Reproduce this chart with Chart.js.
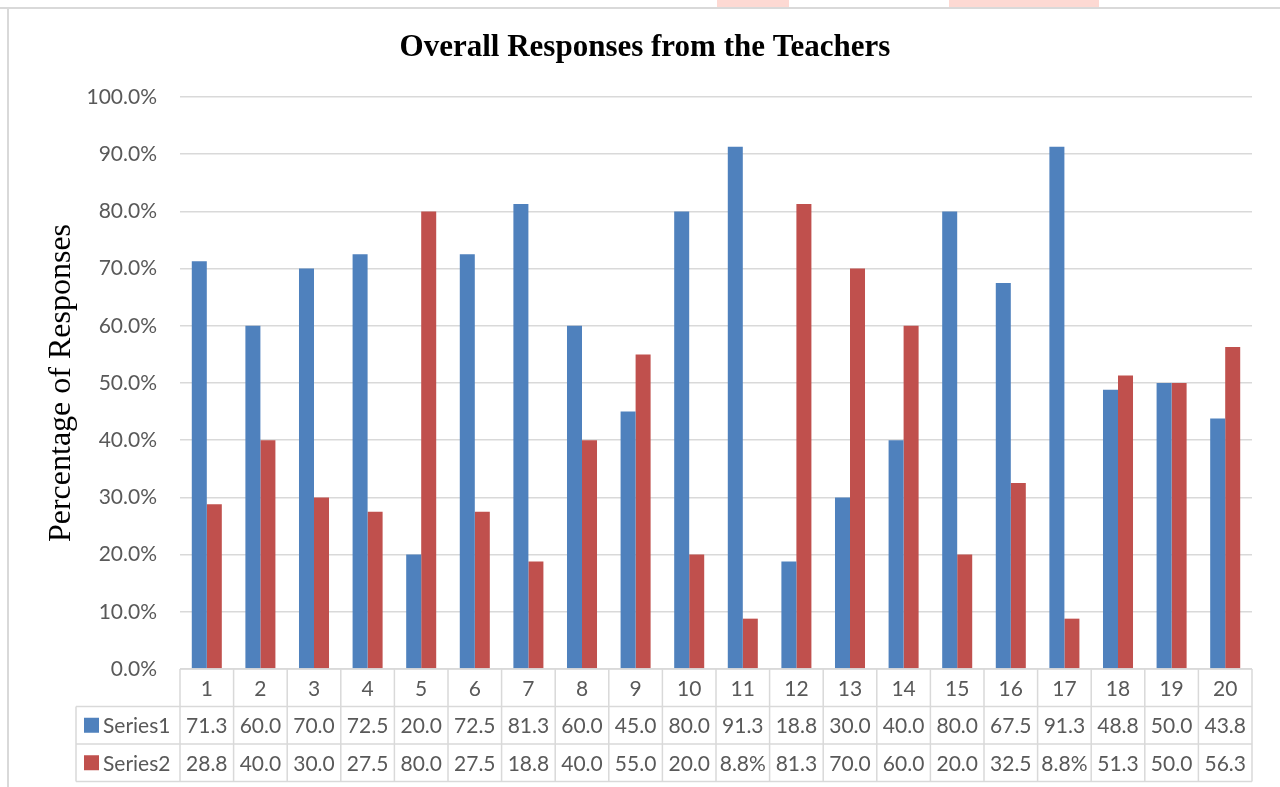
<!DOCTYPE html>
<html>
<head>
<meta charset="utf-8">
<script src="https://cdn.jsdelivr.net/npm/chart.js@4/dist/chart.umd.min.js"></script>
<style>
  html, body { margin: 0; padding: 0; background: #fff; }
  #wrap { width: 1280px; height: 787px; }
</style>
</head>
<body>
<div id="wrap"><canvas id="respChart" width="1280" height="787"></canvas></div>
<script>
// data
var items = ['1','2','3','4','5','6','7','8','9','10','11','12','13','14','15','16','17','18','19','20'];
var series1 = [71.3, 60.0, 70.0, 72.5, 20.0, 72.5, 81.3, 60.0, 45.0, 80.0, 91.3, 18.8, 30.0, 40.0, 80.0, 67.5, 91.3, 48.8, 50.0, 43.8];
var series2 = [28.8, 40.0, 30.0, 27.5, 80.0, 27.5, 18.8, 40.0, 55.0, 20.0, 8.8, 81.3, 70.0, 60.0, 20.0, 32.5, 8.8, 51.3, 50.0, 56.3];
var seriesNames = ['Series1', 'Series2'];
var seriesColors = ['#4f81bd', '#c0504d'];

var labelFont = 'Lato, "Open Sans", sans-serif';
var lineGrey = '#d9d9d9';
var textGrey = '#595959';

// table cell text: Excel showed single-digit values with the % sign
function cellText(v) {
    return v < 10 ? v.toFixed(1) + '%' : v.toFixed(1);
}

// page frame + title + data table under the plot
var tablePlugin = {
    id: 'dataTable',
    beforeDraw: function(chart) {
        var c = chart.ctx;
        c.save();
        c.fillStyle = '#fdd9d3';
        c.fillRect(717, 0, 72, 7);
        c.fillRect(949, 0, 150, 7);
        c.strokeStyle = lineGrey;
        c.lineWidth = 2;
        c.beginPath();
        c.moveTo(0, 8); c.lineTo(1280, 8);
        c.moveTo(8, 8); c.lineTo(8, 787);
        c.stroke();
        c.restore();
    },
    afterDraw: function(chart) {
        var c = chart.ctx;
        var x = chart.scales.x;
        var area = chart.chartArea;
        var left = area.left, right = area.right;
        var rowTop = area.bottom;
        var rowH = 37.5;
        var headLeft = 76;
        var data = [series1, series2];

        c.save();
        // title
        c.fillStyle = '#000';
        c.font = 'bold 31px "Liberation Serif", "Times New Roman", serif';
        c.textAlign = 'center';
        c.textBaseline = 'middle';
        c.fillText('Overall Responses from the Teachers', 645, 48);

        // grid of the table
        c.strokeStyle = lineGrey;
        c.lineWidth = 1.5;
        c.beginPath();
        c.moveTo(left, rowTop); c.lineTo(right, rowTop);
        for (var r = 1; r <= 3; r++) {
            var yy = rowTop + r * rowH;
            c.moveTo(headLeft, yy); c.lineTo(right, yy);
        }
        c.moveTo(headLeft, rowTop + rowH); c.lineTo(headLeft, rowTop + 3 * rowH);
        var half = (x.getPixelForValue(1) - x.getPixelForValue(0)) / 2;
        for (var i = 0; i < items.length; i++) {
            var bx = x.getPixelForValue(i) - half;
            c.moveTo(bx, rowTop); c.lineTo(bx, rowTop + 3 * rowH);
        }
        c.moveTo(right, rowTop); c.lineTo(right, rowTop + 3 * rowH);
        c.stroke();

        // category row + values
        c.fillStyle = textGrey;
        c.font = '21px ' + labelFont;
        c.textAlign = 'center';
        for (var j = 0; j < items.length; j++) {
            var cx = x.getPixelForValue(j);
            c.fillText(items[j], cx, rowTop + rowH / 2 + 1);
            for (var s = 0; s < data.length; s++) {
                c.fillText(cellText(data[s][j]), cx, rowTop + (s + 1.5) * rowH + 1);
            }
        }

        // legend keys in the header column
        for (var k = 0; k < seriesNames.length; k++) {
            var cy = rowTop + (k + 1.5) * rowH;
            c.fillStyle = seriesColors[k];
            c.fillRect(84, cy - 7.5, 15, 15);
            c.fillStyle = textGrey;
            c.textAlign = 'left';
            c.fillText(seriesNames[k], 103, cy + 1);
        }
        c.restore();
    }
};

var ctx = document.getElementById('respChart').getContext('2d');
var respChart = new Chart(ctx, {
    type: 'bar',
    data: {
        labels: items,
        datasets: [
            {
                label: seriesNames[0],
                data: series1,
                backgroundColor: seriesColors[0],
                categoryPercentage: 0.56,
                barPercentage: 1.0
            },
            {
                label: seriesNames[1],
                data: series2,
                backgroundColor: seriesColors[1],
                categoryPercentage: 0.56,
                barPercentage: 1.0
            }
        ]
    },
    options: {
        responsive: false,
        animation: false,
        layout: {
            padding: { top: 97, right: 28, bottom: 0, left: 10 }
        },
        plugins: {
            legend: { display: false },
            title: { display: false },
            tooltip: { enabled: false }
        },
        scales: {
            x: {
                grid: { display: false },
                border: { display: false },
                ticks: { display: false },
                afterFit: function(scale) { scale.height = 118; }
            },
            y: {
                min: 0,
                max: 100,
                ticks: {
                    stepSize: 10,
                    padding: 23,
                    color: textGrey,
                    font: { family: labelFont, size: 21 },
                    callback: function(v) { return v.toFixed(1) + '%'; }
                },
                grid: { color: lineGrey, lineWidth: 1.5, drawTicks: false },
                border: { display: false },
                title: {
                    display: true,
                    text: 'Percentage of Responses',
                    color: '#000',
                    font: { family: '"Liberation Serif", "Times New Roman", serif', size: 32 },
                    padding: { top: 32, bottom: 0 }
                },
                afterFit: function(scale) { scale.width = 170; }
            }
        }
    },
    plugins: [tablePlugin]
});
</script>
</body>
</html>
